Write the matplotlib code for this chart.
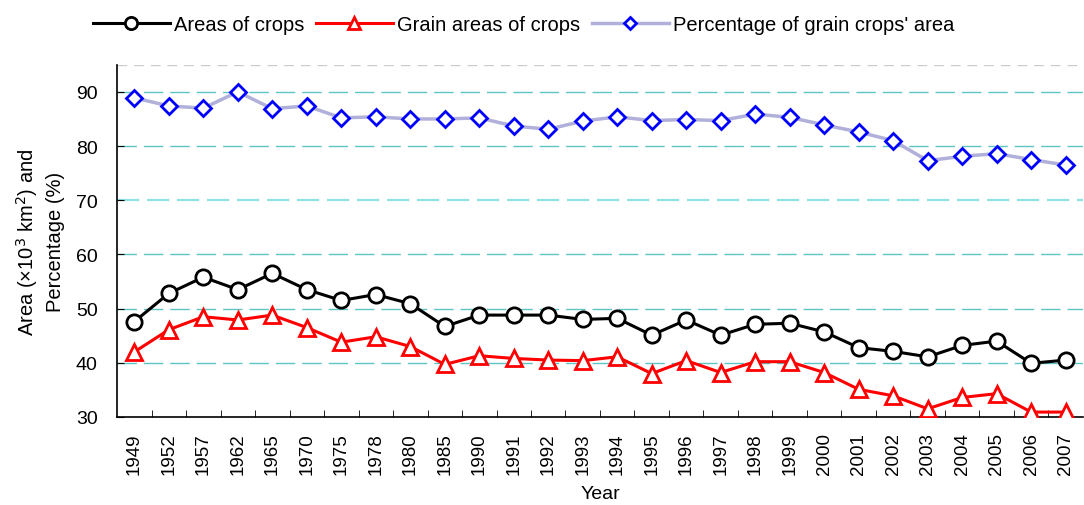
import matplotlib.pyplot as plt

plt.rcParams["font.family"] = ["Liberation Sans", "DejaVu Sans"]

# %% data
years = ["1949", "1952", "1957", "1962", "1965", "1970", "1975", "1978", "1980", "1985",
         "1990", "1991", "1992", "1993", "1994", "1995", "1996", "1997", "1998", "1999",
         "2000", "2001", "2002", "2003", "2004", "2005", "2006", "2007"]
crop_area = [47.6, 52.8, 55.8, 53.5, 56.5, 53.5, 51.5, 52.6, 50.9, 46.7,
             48.8, 48.8, 48.8, 48.0, 48.2, 45.1, 47.9, 45.1, 47.1, 47.3,
             45.7, 42.8, 42.1, 41.1, 43.2, 44.0, 39.9, 40.5]
grain_area = [42.0, 46.1, 48.5, 47.9, 48.8, 46.5, 43.8, 44.8, 43.0, 39.7,
              41.3, 40.8, 40.5, 40.4, 41.1, 38.0, 40.4, 38.2, 40.2, 40.2,
              38.2, 35.1, 33.9, 31.5, 33.6, 34.3, 30.9, 30.9]
grain_pct = [88.9, 87.4, 87.0, 90.0, 86.9, 87.4, 85.2, 85.4, 85.0, 85.0,
             85.2, 83.7, 83.1, 84.6, 85.4, 84.7, 84.9, 84.7, 85.9, 85.3,
             83.9, 82.6, 81.0, 77.3, 78.1, 78.6, 77.5, 76.5]

# %% plot
fig = plt.figure(figsize=(10.84, 5.06), dpi=100)
ax = fig.add_axes([0.108, 0.174, 0.891, 0.696])

x = range(len(years))
for yv in [40, 50, 60, 70, 80, 90]:
    if yv == 70:
        ax.axhline(yv, color="#8fe3e3", lw=1.6, ls=(0, (10, 3.5)), zorder=0)
    else:
        ax.axhline(yv, color="#5cc6c6", lw=1.0, ls=(0, (14, 5)), zorder=0)
ax.axhline(95, color="#cccccc", lw=1.0, ls=(0, (7, 5)), zorder=0)

ax.plot(x, crop_area, color="black", lw=2.2, marker="o", ms=11, mfc="white",
        mec="black", mew=2, label="Areas of crops", zorder=3)
ax.plot(x, grain_area, color="red", lw=2.2, marker="^", ms=11, mfc="white",
        mec="red", mew=2, label="Grain areas of crops", zorder=3)
ax.plot(x, grain_pct, color="#b0b0da", lw=2.5, marker="D", ms=8, mfc="white",
        mec="blue", mew=2, label="Percentage of grain crops' area", zorder=3)

ax.set_xlim(-0.5, len(years) - 0.5)
ax.set_ylim(30, 95)
ax.set_xticks(list(x))
ax.set_xticklabels(years, rotation=90, fontsize=13.5)
ax.set_xticks([i + 0.5 for i in range(len(years) - 1)], minor=True)
ax.tick_params(axis="x", which="major", length=0, pad=11)
ax.tick_params(axis="x", which="minor", direction="in", length=5)
ax.set_yticks([30, 40, 50, 60, 70, 80, 90])
ax.tick_params(axis="y", direction="in", length=5, labelsize=14, pad=14)
for s in ["top", "right"]:
    ax.spines[s].set_visible(False)
ax.spines["left"].set_linewidth(1.2)
ax.spines["bottom"].set_linewidth(1.2)

ax.set_xlabel("Year", fontsize=14, labelpad=8)
ax.set_ylabel("Area (×10$^3$ km$^2$) and\nPercentage (%)", fontsize=14.5,
              labelpad=8, linespacing=1.35)

fig.legend(loc="upper center", bbox_to_anchor=(0.483, 1.005), ncol=3, frameon=False,
           fontsize=14.5, handlelength=3.8, columnspacing=0.6, handletextpad=0.2,
           markerscale=0.8)

fig.savefig("out.png", dpi=100)
